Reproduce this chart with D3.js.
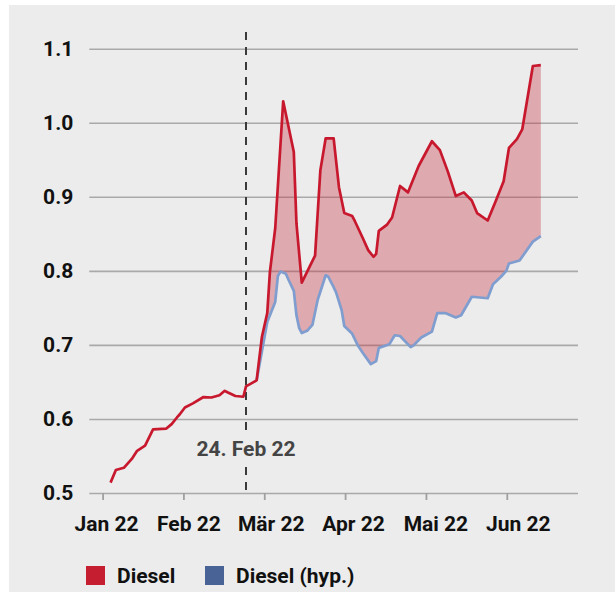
<!DOCTYPE html>
<html>
<head>
<meta charset="utf-8">
<script src="https://cdn.jsdelivr.net/npm/d3@7"></script>
<style>
  html, body { margin: 0; padding: 0; background: #ffffff; }
  svg { display: block; }
  text { font-family: Roboto, "Noto Sans", sans-serif; font-weight: 700; }
</style>
</head>
<body>
<svg id="chart" width="615" height="592"></svg>
<script>
// ---------- data ----------
const dieselDates = ["2022-01-04","2022-01-06","2022-01-09","2022-01-12","2022-01-14","2022-01-17","2022-01-20","2022-01-25","2022-01-27","2022-01-29","2022-01-30","2022-02-01","2022-02-04","2022-02-08","2022-02-11","2022-02-14","2022-02-16","2022-02-17","2022-02-20","2022-02-23","2022-02-24","2022-02-28","2022-03-02","2022-03-04","2022-03-05","2022-03-07","2022-03-10","2022-03-14","2022-03-15","2022-03-17","2022-03-22","2022-03-24","2022-03-26","2022-03-29","2022-03-31","2022-04-02","2022-04-05","2022-04-06","2022-04-09","2022-04-11","2022-04-13","2022-04-14","2022-04-15","2022-04-18","2022-04-20","2022-04-23","2022-04-26","2022-04-30","2022-05-05","2022-05-08","2022-05-11","2022-05-14","2022-05-17","2022-05-20","2022-05-22","2022-05-26","2022-05-29","2022-06-01","2022-06-03","2022-06-06","2022-06-08","2022-06-12","2022-06-15"];
const dieselValues = [0.514,0.531,0.534,0.546,0.557,0.564,0.586,0.587,0.593,0.602,0.606,0.6155,0.621,0.6296,0.629,0.632,0.638,0.636,0.631,0.630,0.644,0.652,0.711,0.743,0.7985,0.8575,1.029,0.9605,0.864,0.784,0.8205,0.936,0.979,0.979,0.913,0.878,0.874,0.867,0.844,0.828,0.819,0.823,0.854,0.862,0.872,0.9146,0.906,0.9416,0.975,0.963,0.934,0.901,0.906,0.895,0.878,0.868,0.894,0.921,0.966,0.978,0.991,1.0766,1.0777];

const hypDates = ["2022-02-28","2022-03-04","2022-03-07","2022-03-08","2022-03-09","2022-03-11","2022-03-12","2022-03-14","2022-03-15","2022-03-16","2022-03-17","2022-03-19","2022-03-21","2022-03-23","2022-03-26","2022-03-27","2022-03-29","2022-03-30","2022-04-01","2022-04-02","2022-04-05","2022-04-07","2022-04-09","2022-04-12","2022-04-14","2022-04-15","2022-04-19","2022-04-21","2022-04-23","2022-04-27","2022-04-28","2022-05-01","2022-05-05","2022-05-07","2022-05-10","2022-05-14","2022-05-16","2022-05-20","2022-05-26","2022-05-28","2022-05-31","2022-06-02","2022-06-03","2022-06-07","2022-06-12","2022-06-15"];
const hypValues = [0.652,0.731,0.758,0.793,0.799,0.796,0.788,0.773,0.740,0.723,0.716,0.719,0.727,0.761,0.794,0.792,0.778,0.770,0.747,0.7255,0.715,0.700,0.689,0.674,0.678,0.696,0.701,0.713,0.712,0.697,0.699,0.710,0.718,0.743,0.743,0.737,0.740,0.765,0.763,0.782,0.792,0.800,0.810,0.814,0.8395,0.847];

const yTicks = [0.5, 0.6, 0.7, 0.8, 0.9, 1.0, 1.1];
const xTickLabels = ["Jan 22", "Feb 22", "Mär 22", "Apr 22", "Mai 22", "Jun 22"];
const eventDate = "2022-02-24";
const eventLabel = "24. Feb 22";
const seriesNames = ["Diesel", "Diesel (hyp.)"];

// ---------- setup ----------
const parse = d3.utcParse("%Y-%m-%d");
const diesel = dieselDates.map((d, i) => ({ date: parse(d), value: dieselValues[i] }));
const hyp = hypDates.map((d, i) => ({ date: parse(d), value: hypValues[i] }));

const svg = d3.select("#chart");
const W = 615, H = 592;

svg.append("rect").attr("x", 9).attr("y", 5).attr("width", W - 9).attr("height", H - 5).attr("fill", "#ececec");

const x = d3.scaleUtc()
  .domain([Date.UTC(2021, 11, 27), Date.UTC(2022, 5, 29)])
  .range([89.3, 578]);
const y = d3.scaleLinear().domain([0.5, 1.1]).range([493, 48.7]);

// ticks every average month length (365.25/12 days) from 1 Jan
const DAY = 86400000;
const jan1 = Date.UTC(2022, 0, 1);
const avgMonth = 365.25 / 12 * DAY;
const xTickValues = xTickLabels.map((_, i) => new Date(jan1 + i * avgMonth));
// label anchors (the source places labels slightly to the right of ticks, ~31-day steps)
const xLabelValues = xTickLabels.map((_, i) => new Date(jan1 + (1.5 + i * 31) * DAY));

// gridlines + y labels
const yAxis = d3.axisLeft(y).tickValues(yTicks).tickSize(-(578 - 89.3)).tickPadding(16)
  .tickFormat(d3.format(".1f"));
const gy = svg.append("g").attr("transform", "translate(89.3,0)").call(yAxis);
gy.select(".domain").remove();
gy.selectAll(".tick line").attr("stroke", "#a9a9a9").attr("stroke-width", 1.6);
gy.selectAll(".tick text").attr("fill", "#111").attr("font-size", 21).attr("font-weight", 700)
  .attr("font-family", "Roboto, sans-serif");

// x axis ticks
const xAxis = d3.axisBottom(x).tickValues(xTickValues).tickSize(7).tickFormat("");
const gx = svg.append("g").attr("transform", `translate(0,${y(0.5)})`).call(xAxis);
gx.select(".domain").remove();
gx.selectAll(".tick line").attr("stroke", "#a0a0a0").attr("stroke-width", 1.8);

// x labels
svg.append("g").selectAll("text").data(xTickLabels).join("text")
  .attr("x", (d, i) => x(xLabelValues[i]))
  .attr("y", 530.5)
  .attr("text-anchor", "middle")
  .attr("font-size", 21).attr("fill", "#111")
  .text(d => d);

// area between series
const lineGen = d3.line().x(d => x(d.date)).y(d => y(d.value));
const start = diesel.findIndex(d => +d.date === +hyp[0].date);
const poly = diesel.slice(start).concat(hyp.slice().reverse());
svg.append("path").attr("d", lineGen(poly) + "Z")
  .attr("fill", "#c4283a").attr("fill-opacity", 0.34).attr("stroke", "none");

// event line
const ex = x(parse(eventDate));
svg.append("line").attr("x1", ex).attr("x2", ex).attr("y1", 32).attr("y2", y(0.5))
  .attr("stroke", "#3a3a3a").attr("stroke-width", 2).attr("stroke-dasharray", "8,7");
svg.append("rect").attr("x", ex - 50).attr("y", 434).attr("width", 100).attr("height", 28)
  .attr("fill", "#ececec");
svg.append("text").attr("x", ex).attr("y", 456).attr("text-anchor", "middle")
  .attr("font-size", 21).attr("fill", "#444").text(eventLabel);

// lines
svg.append("path").datum(hyp).attr("d", lineGen).attr("fill", "none")
  .attr("stroke", "#7f9dce").attr("stroke-width", 2.7).attr("stroke-linejoin", "round");
svg.append("path").datum(diesel).attr("d", lineGen).attr("fill", "none")
  .attr("stroke", "#c8182e").attr("stroke-width", 2.7).attr("stroke-linejoin", "round");

// legend
const legend = [
  { name: seriesNames[0], color: "#c41e30", x: 86 },
  { name: seriesNames[1], color: "#4a6396", x: 205 }
];
const lg = svg.append("g");
legend.forEach(l => {
  lg.append("rect").attr("x", l.x).attr("y", 566).attr("width", 19).attr("height", 19).attr("fill", l.color);
  lg.append("text").attr("x", l.x + 31).attr("y", 583).attr("font-size", 21).attr("fill", "#111").text(l.name);
});
</script>
</body>
</html>
